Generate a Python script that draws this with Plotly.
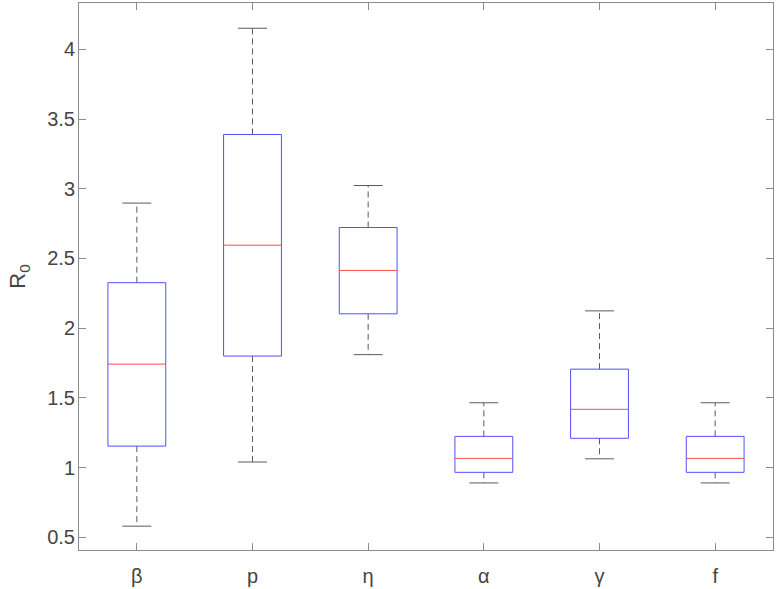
import plotly.graph_objects as go

categories = ["β", "p", "η", "α", "γ", "f"]
lower_whisker = [0.58, 1.04, 1.81, 0.89, 1.063, 0.89]
q1 = [1.154, 1.80, 2.103, 0.966, 1.21, 0.966]
median = [1.742, 2.595, 2.414, 1.066, 1.418, 1.066]
q3 = [2.326, 3.389, 2.722, 1.224, 1.706, 1.224]
upper_whisker = [2.897, 4.151, 3.023, 1.465, 2.124, 1.465]
y_ticks = [0.5, 1, 1.5, 2, 2.5, 3, 3.5, 4]
y_tick_labels = ["0.5", "1", "1.5", "2", "2.5", "3", "3.5", "4"]

BOX_HALF = 0.25
CAP_HALF = 0.125
WHISKER_COLOR = "#5a5a5a"
BOX_COLOR = "#5050ff"
MED_COLOR = "#ff4a4a"
FONT = "Liberation Sans, Arial, sans-serif"

fig = go.Figure()
for i, cat in enumerate(categories):
    x = i + 1
    fig.add_trace(go.Scatter(x=[x, x, None, x, x], y=[q3[i], upper_whisker[i], None, q1[i], lower_whisker[i]],
                             mode="lines", line=dict(color=WHISKER_COLOR, width=1, dash="6px,4px"),
                             hoverinfo="skip", showlegend=False))
    fig.add_trace(go.Scatter(x=[x - CAP_HALF, x + CAP_HALF, None, x - CAP_HALF, x + CAP_HALF],
                             y=[upper_whisker[i], upper_whisker[i], None, lower_whisker[i], lower_whisker[i]],
                             mode="lines", line=dict(color=WHISKER_COLOR, width=1),
                             hoverinfo="skip", showlegend=False))
    fig.add_trace(go.Scatter(x=[x - BOX_HALF, x + BOX_HALF, x + BOX_HALF, x - BOX_HALF, x - BOX_HALF],
                             y=[q1[i], q1[i], q3[i], q3[i], q1[i]],
                             mode="lines", line=dict(color=BOX_COLOR, width=1),
                             hoverinfo="skip", showlegend=False))
    fig.add_trace(go.Scatter(x=[x - BOX_HALF, x + BOX_HALF], y=[median[i], median[i]],
                             mode="lines", line=dict(color=MED_COLOR, width=1),
                             hoverinfo="skip", showlegend=False))

axis_common = dict(showline=True, linecolor="#8c8c8c", linewidth=1, mirror="ticks",
                   ticks="inside", ticklen=7, tickcolor="#8c8c8c", showgrid=False, zeroline=False,
                   automargin=False,
                   tickfont=dict(family=FONT, size=20, color="#454545"))

fig.update_xaxes(range=[0.5, 6.5], tickvals=list(range(1, len(categories) + 1)), ticktext=categories,
                 ticklabelstandoff=8, **axis_common)
fig.update_yaxes(range=[0.409, 4.332], tickvals=y_ticks, ticktext=y_tick_labels,
                 ticklabelstandoff=-1,
                 title=dict(text="R<sub>0</sub>", font=dict(family=FONT, size=22, color="#454545")),
                 **axis_common)

fig.update_layout(width=777, height=589, margin=dict(l=79, r=4, t=3, b=39),
                  plot_bgcolor="white", paper_bgcolor="white")

fig.write_html("out.html", config={"displayModeBar": False},
               post_script="document.body.style.margin='0';document.body.style.overflow='hidden';")
